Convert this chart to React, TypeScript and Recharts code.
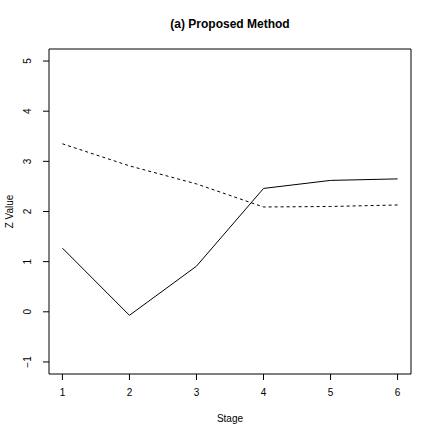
import {
  LineChart,
  Line,
  XAxis,
  YAxis,
  ReferenceArea,
} from "recharts";

const stages = [1, 2, 3, 4, 5, 6];
const proposed = [1.27, -0.07, 0.91, 2.46, 2.62, 2.65];
const baseline = [3.35, 2.91, 2.55, 2.09, 2.1, 2.13];
const xTicks = [1, 2, 3, 4, 5, 6];
const yTicks = [-1, 0, 1, 2, 3, 4, 5];

const data = stages.map((s, i) => ({
  stage: s,
  proposed: proposed[i],
  baseline: baseline[i],
}));

const FONT = "'Liberation Sans', Arial, sans-serif";

function XTick({ x, y, payload }: any) {
  return (
    <text
      x={x}
      y={y + 14}
      textAnchor="middle"
      fontSize={10}
      fontFamily={FONT}
      fill="#000"
    >
      {payload.value}
    </text>
  );
}

function YTick({ x, y, payload }: any) {
  const tx = x - 10;
  const label = payload.value < 0 ? "\u2212" + Math.abs(payload.value) : String(payload.value);
  return (
    <text
      x={tx}
      y={y}
      transform={`rotate(-90 ${tx} ${y})`}
      textAnchor="middle"
      fontSize={10}
      fontFamily={FONT}
      fill="#000"
    >
      {label}
    </text>
  );
}

export default function App() {
  return (
    <div
      style={{
        position: "fixed",
        left: 0,
        top: 0,
        width: 436,
        height: 436,
        background: "#fff",
      }}
    >
      <div
        style={{
          position: "absolute",
          left: 49,
          width: 362,
          top: 17,
          textAlign: "center",
          fontFamily: FONT,
          fontWeight: "bold",
          fontSize: 12,
        }}
      >
        (a) Proposed Method
      </div>
      <LineChart
        width={436}
        height={436}
        data={data}
        margin={{ top: 49, right: 25, left: 0, bottom: 0 }}
      >
        <XAxis
          dataKey="stage"
          type="number"
          domain={[0.8, 6.2]}
          ticks={xTicks}
          axisLine={false}
          tickLine={{ stroke: "#000" }}
          tickSize={6}
          height={62}
          tick={<XTick />}
          label={{
            value: "Stage",
            position: "insideBottom",
            offset: 14,
            fontSize: 10,
            fontFamily: FONT,
            fill: "#000",
          }}
        />
        <YAxis
          type="number"
          domain={[-1.24, 5.24]}
          ticks={yTicks}
          axisLine={false}
          tickLine={{ stroke: "#000" }}
          tickSize={6}
          width={49}
          tick={<YTick />}
          label={{
            value: "Z Value",
            angle: -90,
            position: "insideLeft",
            offset: 9,
            fontSize: 10,
            fontFamily: FONT,
            fill: "#000",
            style: { textAnchor: "middle" },
          }}
        />
        <ReferenceArea
          x1={0.8}
          x2={6.2}
          y1={-1.24}
          y2={5.24}
          fill="none"
          fillOpacity={0}
          stroke="#000"
          strokeWidth={1}
          strokeOpacity={1}
          ifOverflow="visible"
        />
        <Line
          type="linear"
          dataKey="proposed"
          stroke="#000"
          strokeWidth={1}
          dot={false}
          isAnimationActive={false}
        />
        <Line
          type="linear"
          dataKey="baseline"
          stroke="#000"
          strokeWidth={1}
          strokeDasharray="3 3"
          dot={false}
          isAnimationActive={false}
        />
      </LineChart>
    </div>
  );
}
